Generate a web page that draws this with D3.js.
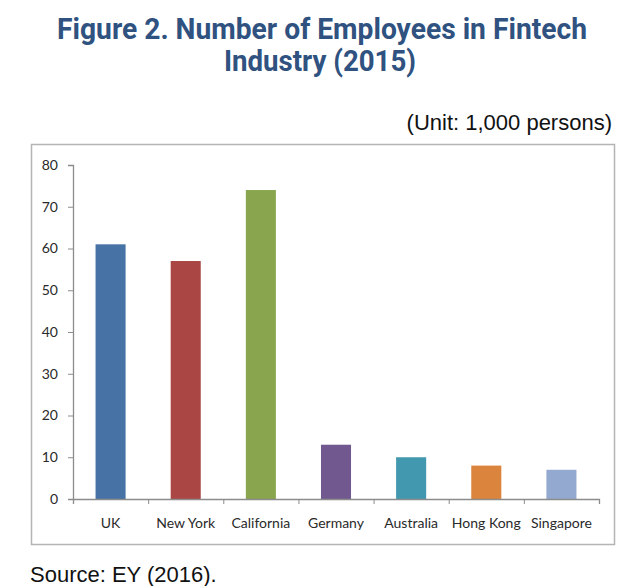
<!DOCTYPE html>
<html><head><meta charset="utf-8">
<script src="https://cdn.jsdelivr.net/npm/d3@7"></script>
<style>body{margin:0;background:#fff}</style>
</head><body>
<svg id="c" width="640" height="586"></svg>
<script>
const categories = ["UK","New York","California","Germany","Australia","Hong Kong","Singapore"];
const values = [61,57,74,13,10,8,7];
const colors = ["#4672a6","#aa4644","#89a54e","#71588f","#4298af","#db843d","#93a9cf"];
const yTicks = [0,10,20,30,40,50,60,70,80];

const svg = d3.select("#c");
svg.append("text").attr("x",57).attr("y",39)
  .attr("font-family","Roboto").attr("font-weight","bold").attr("font-size",30)
  .attr("textLength",530).attr("lengthAdjust","spacingAndGlyphs")
  .attr("fill","#2f5280").text("Figure 2. Number of Employees in Fintech");
svg.append("text").attr("x",224).attr("y",71)
  .attr("font-family","Roboto").attr("font-weight","bold").attr("font-size",30)
  .attr("textLength",192).attr("lengthAdjust","spacingAndGlyphs")
  .attr("fill","#2f5280").text("Industry (2015)");
svg.append("text").attr("x",612).attr("y",130).attr("text-anchor","end")
  .attr("font-family","Liberation Sans").attr("font-size",22)
  .attr("fill","#111").text("(Unit: 1,000 persons)");
svg.append("rect").attr("x",31.5).attr("y",144.5).attr("width",583).attr("height",400)
  .attr("fill","none").attr("stroke","#b4b4b4").attr("stroke-width",1.5);
svg.append("text").attr("x",30).attr("y",582)
  .attr("font-family","Liberation Sans").attr("font-size",22)
  .attr("fill","#111").text("Source: EY (2016).");

const x = d3.scaleBand().domain(categories).range([73,599]).paddingInner(0.6).paddingOuter(0.3);
const y = d3.scaleLinear().domain([0,80]).range([499,165]);

svg.selectAll("rect.bar").data(values).join("rect").attr("class","bar")
  .attr("x",(d,i)=>x(categories[i])).attr("width",x.bandwidth())
  .attr("y",d=>y(d)).attr("height",d=>y(0)-y(d)).attr("fill",(d,i)=>colors[i]);

const yAxis = svg.append("g").attr("transform","translate(73,0)")
  .call(d3.axisLeft(y).tickValues(yTicks).tickSize(5).tickPadding(10));
const xAxis = svg.append("g").attr("transform","translate(0,499)")
  .call(d3.axisBottom(d3.scalePoint().domain(d3.range(8)).range([73,599])).tickSize(5).tickFormat(""));
[yAxis,xAxis].forEach(g=>{g.select(".domain").attr("stroke","#8c8c8c").attr("stroke-width",1.3);g.selectAll("line").attr("stroke","#8c8c8c");});
yAxis.selectAll("text").attr("font-family","Lato").attr("font-size",14).attr("fill","#2a2a2a");
const xl = svg.append("g");
xl.selectAll("text").data(categories).join("text")
  .attr("x",d=>x(d)+x.bandwidth()/2).attr("y",528).attr("text-anchor","middle")
  .attr("font-family","Lato").attr("font-size",14).attr("fill","#2a2a2a").text(d=>d);
</script>
</body></html>
